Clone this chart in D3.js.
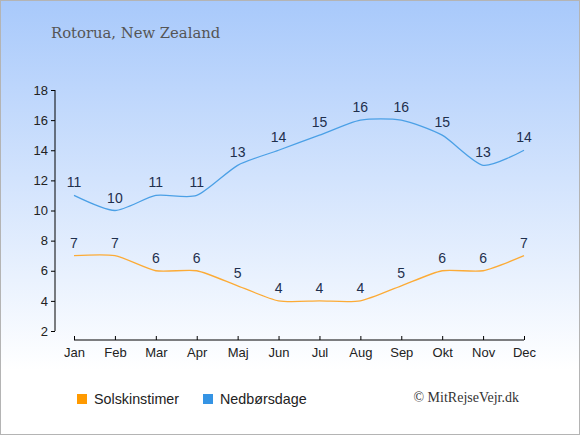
<!DOCTYPE html>
<html><head><meta charset="utf-8">
<script src="https://cdn.jsdelivr.net/npm/d3@7"></script>
<style>html,body{margin:0;padding:0;background:#fff}svg{display:block}</style>
</head><body>
<svg id="c" width="580" height="435"></svg>
<script>
const months = ["Jan","Feb","Mar","Apr","Maj","Jun","Jul","Aug","Sep","Okt","Nov","Dec"];
const sunHours = [7,7,6,6,5,4,4,4,5,6,6,7];
const rainDays = [11,10,11,11,13,14,15,16,16,15,13,14];
const yTicks = [2,4,6,8,10,12,14,16,18];

const svg = d3.select("#c");
const defs = svg.append("defs");
const g = defs.append("linearGradient").attr("id","bg").attr("x1",0).attr("y1",0).attr("x2",0).attr("y2",1);
g.append("stop").attr("offset","0%").attr("stop-color","#a8c9fb");
g.append("stop").attr("offset","85%").attr("stop-color","#ffffff");
g.append("stop").attr("offset","100%").attr("stop-color","#ffffff");
svg.append("rect").attr("x",0).attr("y",0).attr("width",580).attr("height",435).attr("fill","url(#bg)");
svg.append("rect").attr("x",0.5).attr("y",0.5).attr("width",579).attr("height",434).attr("fill","none").attr("stroke","#b4b4b4");

const x = d3.scalePoint().domain(months).range([74,524]);
const y = d3.scaleLinear().domain([2,18]).range([331,90]);

svg.append("text").attr("x",51).attr("y",38).attr("font-family","'DejaVu Serif', Georgia, serif")
  .attr("font-size",14.8).attr("fill","#555").text("Rotorua, New Zealand");

const ya = svg.append("g").attr("transform","translate(55,0)")
  .call(d3.axisLeft(y).tickValues(yTicks).tickSize(4).tickPadding(3).tickFormat(d3.format("d")));
ya.select(".domain").attr("stroke","#000").attr("d","M0,90V331");
ya.selectAll("text").attr("font-family","'Liberation Sans', Arial, sans-serif").attr("font-size",13).attr("fill","#222");

const xa = svg.append("g").attr("transform","translate(0,340)")
  .call(d3.axisBottom(x).tickSize(-4).tickPadding(8));
xa.select(".domain").attr("stroke","#000").attr("d","M74,0H524");
xa.selectAll(".tick line").attr("y2",-4).attr("y1",0);
xa.selectAll("text").attr("font-family","'Liberation Sans', Arial, sans-serif").attr("font-size",13).attr("fill","#222");

const line = d3.line().x((d,i)=>x(months[i])).y(d=>y(d)).curve(d3.curveCardinal.tension(0.3));

function series(data, color){
  svg.append("path").datum(data).attr("d",line).attr("fill","none").attr("stroke",color).attr("stroke-width",1.3);
  svg.append("g").selectAll("text").data(data).join("text")
    .attr("x",(d,i)=>x(months[i])).attr("y",d=>y(d)-8).attr("text-anchor","middle")
    .attr("font-family","'Liberation Sans', Arial, sans-serif").attr("font-size",14).attr("fill","#1e2f4d")
    .text(d=>d);
}
series(sunHours,"#fcab36");
series(rainDays,"#4ba0e6");

const leg = [["Solskinstimer","#ff9a00",77],["Nedbørsdage","#3594e4",203]];
leg.forEach(([t,c,lx])=>{
  svg.append("rect").attr("x",lx).attr("y",394).attr("width",10).attr("height",10).attr("fill",c);
  svg.append("text").attr("x",lx+17).attr("y",404).attr("font-family","'Liberation Sans', Arial, sans-serif")
    .attr("font-size",14.3).attr("fill","#222").text(t);
});
svg.append("text").attr("x",519).attr("y",402).attr("text-anchor","end")
  .attr("font-family","'Liberation Serif', 'Times New Roman', serif").attr("font-size",14).attr("fill","#333")
  .text("© MitRejseVejr.dk");
</script>
</body></html>
